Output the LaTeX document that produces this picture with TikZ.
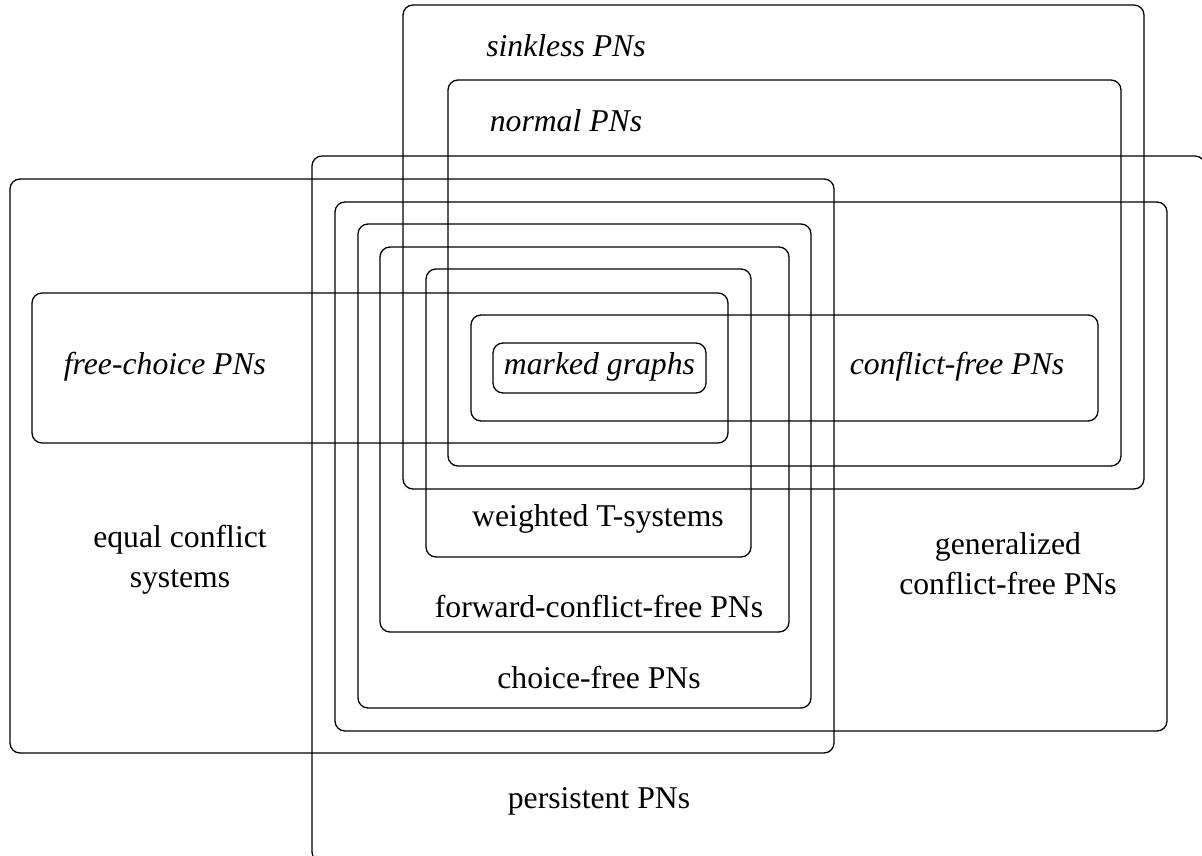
\documentclass[tikz,border=0pt]{standalone}
\usepackage{fontspec}
\setmainfont{Liberation Serif}
\begin{document}
\begin{tikzpicture}[x=1pt,y=-1pt,
  setbox/.style={draw=black,line width=1.3pt,rounded corners=10pt},
  lbl/.style={font=\fontsize{31.7}{40}\selectfont,inner sep=0pt,align=center},
  ilbl/.style={lbl,font=\fontsize{31.7}{40}\selectfont\itshape}]
  \clip (0,0) rectangle (1202,856);
  % class regions
  \draw[setbox] (403,5)   rectangle (1144,489);  % sinkless
  \draw[setbox] (448,80)  rectangle (1121,466);  % normal
  \draw[setbox] (312,156) rectangle (1205,862);  % persistent
  \draw[setbox] (10,179)  rectangle (834,753);   % equal conflict
  \draw[setbox] (335,202) rectangle (1167,731);  % generalized conflict-free
  \draw[setbox] (358,224) rectangle (811,708);   % choice-free
  \draw[setbox] (380,247) rectangle (789,632);   % forward-conflict-free
  \draw[setbox] (426,269) rectangle (751,557);   % weighted T-systems
  \draw[setbox] (32,293)  rectangle (728,443);   % free-choice
  \draw[setbox] (471,315) rectangle (1098,421);  % conflict-free
  \draw[setbox] (493,343) rectangle (706,393);   % marked graphs
  % labels
  \node[ilbl] (sinkless) at (566,46)  {sinkless PNs};
  \node[ilbl] (normal)   at (566,121) {normal PNs};
  \node[ilbl] (freechoice) at (165,367) {free-choice PNs};
  \node[ilbl] (marked)   at (599.5,367) {marked graphs};
  \node[ilbl] (conflictfree) at (957,367) {conflict-free PNs};
  \node[lbl] (weighted)  at (598,519) {weighted T-systems};
  \node[lbl] (forward)   at (599,606) {forward-conflict-free PNs};
  \node[lbl] (choicefree) at (599,677) {choice-free PNs};
  \node[lbl] (equal)     at (180,560) {equal conflict\\systems};
  \node[lbl] (generalized) at (1008,564) {generalized\\conflict-free PNs};
  \node[lbl] (persistent) at (599,801) {persistent PNs};
\end{tikzpicture}
\end{document}
